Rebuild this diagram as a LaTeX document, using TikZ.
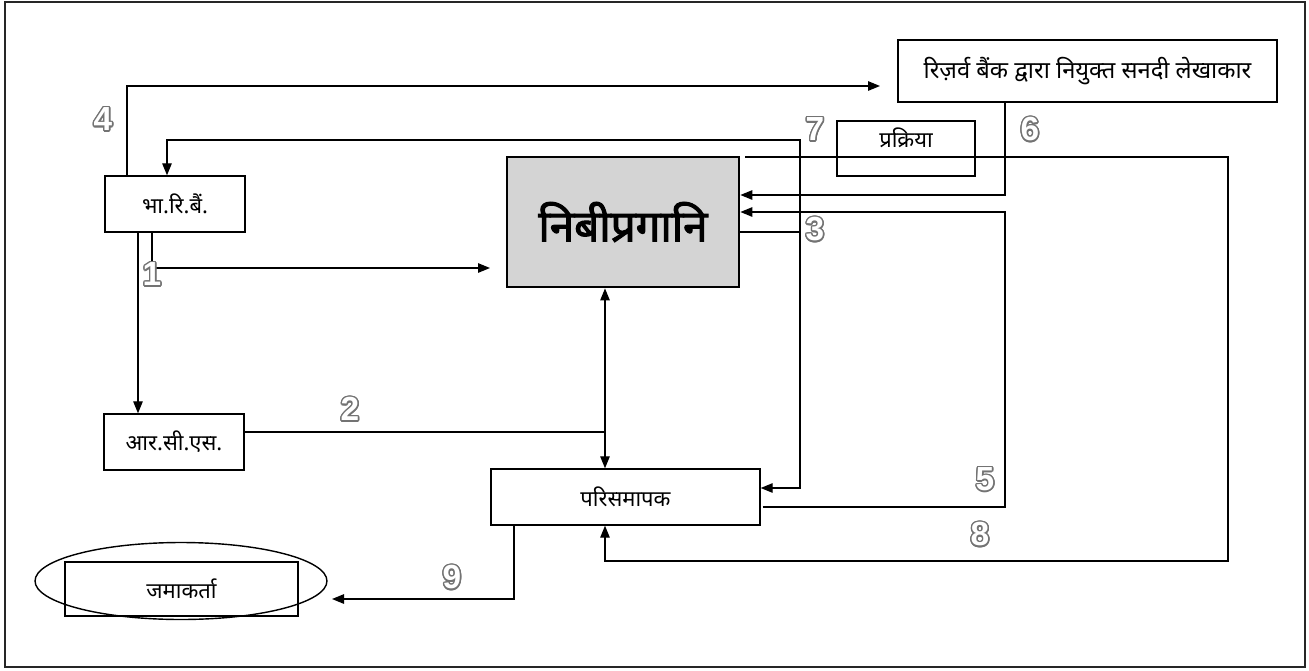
\documentclass[tikz,border=0pt]{standalone}
\usepackage{fontspec}
\setmainfont{Liberation Sans}
\newfontfamily\deva[Script=Devanagari]{Noto Sans}
\newfontfamily\devabf[Script=Devanagari, FakeBold=2.5]{Noto Sans}
\usepackage{xcolor}
\usepackage{contour}
\contourlength{0.8pt}
\usetikzlibrary{arrows.meta, shapes.geometric}
\newcommand{\stepno}[1]{\contour{black!55}{\textcolor{white}{\bfseries #1}}}

\begin{document}
\begin{tikzpicture}[
    x=0.02cm, y=-0.02cm,
    >={Triangle[length=2.4mm, width=1.9mm]},
    every node/.style={font=\deva\fontsize{12.5}{14}\selectfont},
    box/.style  ={draw, line width=0.8pt, inner sep=2pt,
                  minimum height=1.12cm},
    core/.style ={draw, line width=1.6pt, fill=black!17,
                  minimum width=4.64cm, minimum height=2.6cm,
                  font=\devabf\fontsize{25}{30}\selectfont},
    num/.style  ={font=\fontsize{19}{21}\selectfont},
    flow/.style ={->, line width=0.7pt},
    wire/.style ={line width=0.7pt},
]
\useasboundingbox (0,0) rectangle (1309,670);
\draw[line width=1.4pt, black!85] (5,2) rectangle (1305,667);

\node[box, minimum width=2.8cm]  (rbi) at (175,204) {भा.रि.बैं.};
\node[box, minimum width=7.58cm, minimum height=1.24cm,
      font=\deva\fontsize{13.5}{15}\selectfont] (ca) at (1087.5,71)
   {रिज़र्व बैंक द्वारा नियुक्त सनदी लेखाकार};
\node[core] (nbpg) at (623,222) {निबीप्रगानि};
\node[box, minimum width=2.76cm, minimum height=1.1cm, text depth=0.45cm] (proc) at (906,148.5) {प्रक्रिया};
\node[box, minimum width=2.8cm]  (rcs) at (174,442) {आर.सी.एस.};
\node[box, minimum width=5.38cm] (liq) at (625.5,497) {परिसमापक};
\node[draw, ellipse, line width=0.8pt, minimum width=5.84cm, minimum height=1.54cm] (dep) at (181,581) {};
\node[box, minimum width=4.66cm, minimum height=1.08cm] (deprect) at (181.5,589) {जमाकर्ता};

% free ends of the connectors
\coordinate (caIn)  at (880,86);
\coordinate (nbIn)  at (490,268);
\coordinate (depIn) at (332,599);

\draw[flow] (rbi.north -| 127,0) |- (caIn);
\draw[flow] (rbi.south -| 152,0) |- (nbIn);
\draw[flow] (rbi.south -| 138,0) -- (rcs.north -| 138,0);
\draw[<->, wire] (rbi.north -| 167,0) |- (800,140) |- (liq.east |- 0,488);
\draw[wire] (nbpg.east |- 0,232) -- (800,232);
\draw[flow] (ca.south -| 1005,0) |- (nbpg.east |- 0,195);
\draw[flow] (liq.east |- 0,507) ++(2,0) -| (1005,212) -- (nbpg.east |- 0,212);
\draw[flow] (745,157) -| (1228,561) -| (liq.south -| 605,0);
\draw[<->, wire] (nbpg.south -| 605,0) -- (liq.north -| 605,0);
\draw[wire] (rcs.east |- 0,432) -- (605,432);
\draw[flow] (liq.south -| 514,0) |- (depIn);

\node[num] at (103,120) {\stepno{4}};
\node[num] at (152,275) {\stepno{1}};
\node[num] at (350,410) {\stepno{2}};
\node[num] at (815,230) {\stepno{3}};
\node[num] at (985,480) {\stepno{5}};
\node[num] at (1030,130) {\stepno{6}};
\node[num] at (815,130) {\stepno{7}};
\node[num] at (980,535) {\stepno{8}};
\node[num] at (452,578) {\stepno{9}};
\end{tikzpicture}
\end{document}
